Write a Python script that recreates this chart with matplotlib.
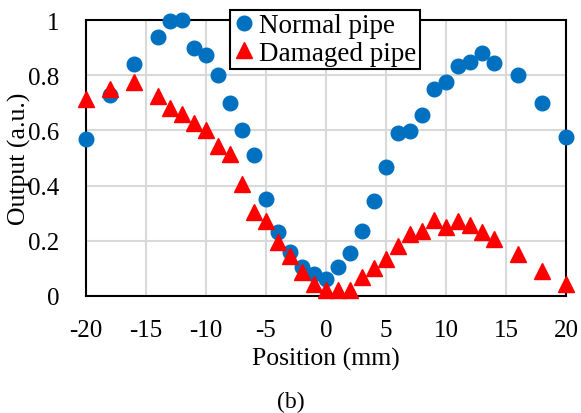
import numpy as np
import matplotlib.pyplot as plt

plt.rcParams['font.family'] = ['Liberation Serif', 'DejaVu Serif']
plt.rcParams['axes.unicode_minus'] = False

# datos
pos_normal = [-20, -18, -16, -14, -13, -12, -11, -10, -9, -8, -7, -6, -5, -4, -3, -2, -1, 0,
              1, 2, 3, 4, 5, 6, 7, 8, 9, 10, 11, 12, 13, 14, 16, 18, 20]
out_normal = [0.57, 0.73, 0.84, 0.94, 0.995, 1.0, 0.90, 0.875, 0.80, 0.70, 0.60, 0.51, 0.35,
              0.23, 0.16, 0.105, 0.08, 0.06, 0.105, 0.156, 0.235, 0.345, 0.467, 0.59, 0.598,
              0.656, 0.75, 0.775, 0.833, 0.847, 0.88, 0.844, 0.80, 0.70, 0.576]
pos_damaged = [-20, -18, -16, -14, -13, -12, -11, -10, -9, -8, -7, -6, -5, -4, -3, -2, -1, 0,
               1, 2, 3, 4, 5, 6, 7, 8, 9, 10, 11, 12, 13, 14, 16, 18, 20]
out_damaged = [0.714, 0.75, 0.775, 0.724, 0.68, 0.66, 0.627, 0.60, 0.544, 0.515, 0.406, 0.304,
               0.27, 0.196, 0.145, 0.087, 0.043, 0.02, 0.02, 0.02, 0.07, 0.10, 0.134, 0.18,
               0.225, 0.236, 0.275, 0.25, 0.272, 0.257, 0.232, 0.206, 0.152, 0.09, 0.043]

xticks = [-20, -15, -10, -5, 0, 5, 10, 15, 20]
yticks = [0, 0.2, 0.4, 0.6, 0.8, 1]
ylabels = ['0', '0.2', '0.4', '0.6', '0.8', '1']

# ventana
fig = plt.figure(figsize=(5.81, 4.14), dpi=100)
ax = fig.add_axes([0.148, 0.283, 0.826, 0.666])

ax.plot(pos_normal, out_normal, 'o', color='#0070C0', markersize=10.5, label='Normal pipe', clip_on=False, zorder=3)
ax.plot(pos_damaged, out_damaged, '^', color='#FF0000', markersize=11, label='Damaged pipe', clip_on=False, zorder=4)

ax.set_xlim(-20, 20)
ax.set_ylim(0, 1)
ax.set_xticks(xticks)
ax.set_yticks(yticks)
ax.set_yticklabels(ylabels)
ax.tick_params(length=0, labelsize=18)
ax.tick_params(axis='x', pad=17)
ax.tick_params(axis='y', pad=19)
ax.grid(color='#d9d9d9', linewidth=1.5)
ax.set_axisbelow(True)
for s in ax.spines.values():
    s.set_linewidth(1.5)
    s.set_color('black')

ax.set_xlabel('Position (mm)', fontsize=18.5, labelpad=4)
ax.set_ylabel('Output (a.u.)', fontsize=18.5)
ax.yaxis.set_label_coords(-0.115, 0.5)

leg = ax.legend(loc='upper left', bbox_to_anchor=(0.396, 0.974), bbox_transform=fig.transFigure,
                fontsize=19.5, fancybox=False, framealpha=1, edgecolor='black',
                borderpad=0.12, handletextpad=0.15, handlelength=0.8, labelspacing=0.1,
                borderaxespad=0)
leg.get_frame().set_linewidth(1.5)

fig.text(0.5, 0.014, '(b)', ha='center', fontsize=17)

plt.savefig('out.png', dpi=100)
